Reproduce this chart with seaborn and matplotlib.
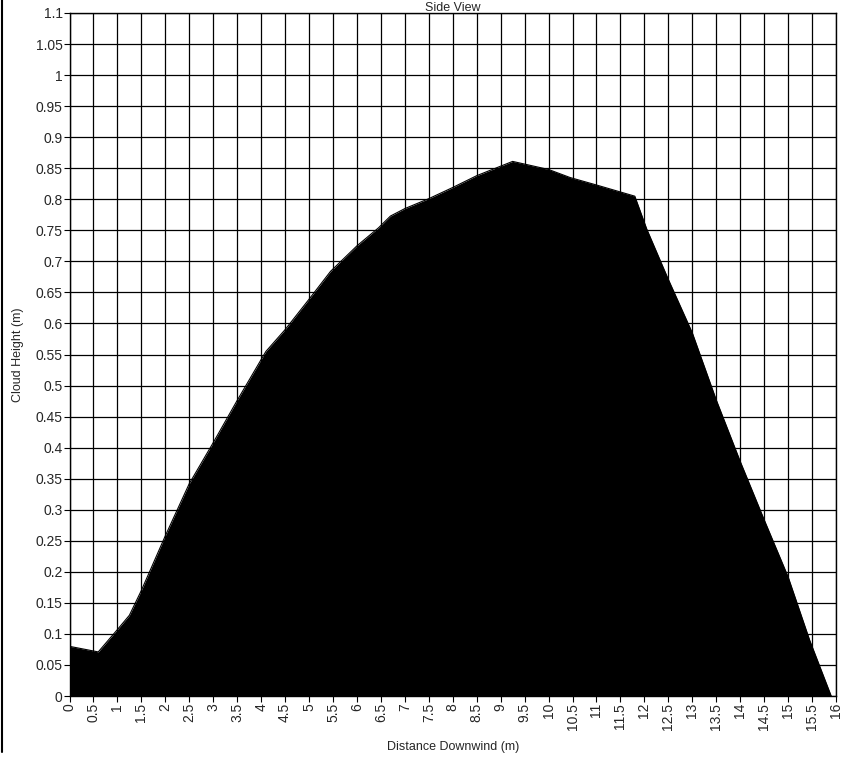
import matplotlib
import seaborn as sns
import numpy as np
import matplotlib.pyplot as plt
from matplotlib.lines import Line2D

# cloud outline
distance = [0.0, 0.6, 1.0, 1.25, 1.5, 2.0, 2.5, 3.0, 3.5, 4.1, 4.5, 5.0, 5.45,
            6.0, 6.45, 6.7, 7.0, 7.5, 8.0, 8.5, 9.25, 10.0, 10.45, 11.0, 11.8,
            12.05, 12.5, 13.0, 13.5, 14.0, 14.5, 15.0, 15.45, 15.9]
height = [0.08, 0.071, 0.107, 0.13, 0.17, 0.258, 0.342, 0.408, 0.476, 0.555,
          0.59, 0.639, 0.684, 0.725, 0.754, 0.773, 0.785, 0.801, 0.819, 0.838,
          0.861, 0.848, 0.835, 0.823, 0.805, 0.752, 0.671, 0.585, 0.477,
          0.378, 0.284, 0.192, 0.09, 0.0]

x_ticks = np.arange(0, 16.01, 0.5)
y_ticks = np.arange(0, 1.1001, 0.05)


def plot_side_view(file_name):
    sns.set_style("white")
    plt.rcParams['font.family'] = ['Liberation Sans', 'DejaVu Sans']
    fig = plt.figure(figsize=(8.5, 7.58), dpi=100)
    ax = fig.add_axes([69.5 / 850, 1 - 696 / 758, (836 - 69.5) / 850, (696 - 13) / 758])

    sns.lineplot(x=distance, y=height, ax=ax, color='black', linewidth=0.8,
                 sort=False, estimator=None)
    ax.fill_between(distance, height, 0, color='black', linewidth=0)

    ax.set_xlim(0, 16)
    ax.set_ylim(0, 1.1)
    ax.set_xticks(x_ticks)
    ax.set_xticklabels(['%g' % round(v, 2) for v in x_ticks], rotation=90, fontsize=10)
    ax.set_yticks(y_ticks)
    ax.set_yticklabels(['%g' % round(v, 2) for v in y_ticks], fontsize=10)
    ax.tick_params(direction='out', length=4, width=0.8, color='black', pad=1,
                   bottom=True, left=True)
    ax.set_axisbelow(True)
    ax.grid(True, color='black', linewidth=0.9)
    for spine in ax.spines.values():
        spine.set_color('black')
        spine.set_linewidth(1.0)

    ax.set_ylabel('Cloud Height (m)', fontsize=9, labelpad=8)
    fig.text(452.75 / 850, 1 - 747 / 758, 'Distance Downwind (m)', ha='center',
             va='center', fontsize=9)
    fig.text(452.75 / 850, 1 - 11 / 758, 'Side View', ha='center', va='baseline',
             fontsize=9)
    # scanned page edge on the left
    fig.add_artist(Line2D([2 / 850, 2 / 850], [1 - 752 / 758, 1], color='black',
                          linewidth=1.5, transform=fig.transFigure))
    plt.savefig(file_name, dpi=100)


if __name__ == '__main__':
    plot_side_view('out.png')
